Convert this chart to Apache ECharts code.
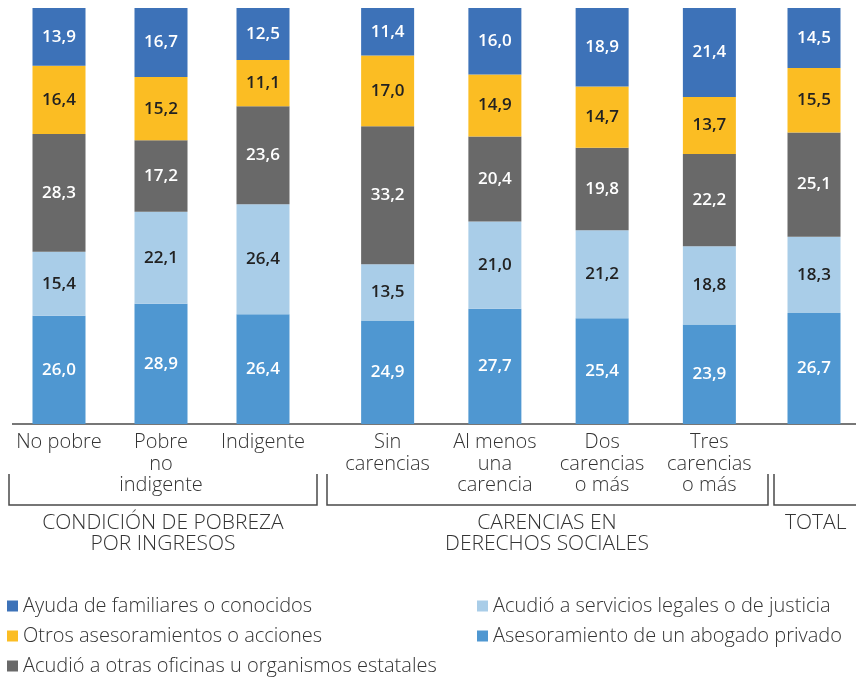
<!DOCTYPE html>
<html>
<head>
<meta charset="utf-8">
<script src="https://cdn.jsdelivr.net/npm/echarts@6/dist/echarts.min.js"></script>
<style>
  html, body { margin: 0; padding: 0; background: #fff; }
  #chart { width: 856px; height: 678px; }
</style>
</head>
<body>
<div id="chart"></div>
<script>
// categorias por grupo
const catPobreza = ['No pobre', 'Pobre\nno\nindigente', 'Indigente']
const catCarencias = ['Sin\ncarencias', 'Al menos\nuna\ncarencia', 'Dos\ncarencias\no más', 'Tres\ncarencias\no más']
const catTotal = ['']

const groupTitles = ['CONDICIÓN DE POBREZA\nPOR INGRESOS', 'CARENCIAS EN\nDERECHOS SOCIALES', 'TOTAL']

// valores (%) en el orden: No pobre, Pobre no ind., Indigente, Sin car., Al menos una, Dos o más, Tres o más, Total
const abogado = [26.0, 28.9, 26.4, 24.9, 27.7, 25.4, 23.9, 26.7]
const serviciosLegales = [15.4, 22.1, 26.4, 13.5, 21.0, 21.2, 18.8, 18.3]
const otrasOficinas = [28.3, 17.2, 23.6, 33.2, 20.4, 19.8, 22.2, 25.1]
const otrosAseso = [16.4, 15.2, 11.1, 17.0, 14.9, 14.7, 13.7, 15.5]
const ayudaFamiliares = [13.9, 16.7, 12.5, 11.4, 16.0, 18.9, 21.4, 14.5]

const seriesDefs = [
  { name: 'Asesoramiento de un abogado privado', data: abogado, color: '#4f97d1', text: '#fff' },
  { name: 'Acudió a servicios legales o de justicia', data: serviciosLegales, color: '#a9cde8', text: '#222' },
  { name: 'Acudió a otras oficinas u organismos estatales', data: otrasOficinas, color: '#696969', text: '#fff' },
  { name: 'Otros asesoramientos o acciones', data: otrosAseso, color: '#fbbd23', text: '#222' },
  { name: 'Ayuda de familiares o conocidos', data: ayudaFamiliares, color: '#3d72b8', text: '#fff' },
]

const FONT = '"Open Sans", Lato, sans-serif'
const groups = [
  { cats: catPobreza, from: 0, grid: { left: 8, width: 306 } },
  { cats: catCarencias, from: 3, grid: { left: 334, width: 429 } },
  { cats: catTotal, from: 7, grid: { left: 772, width: 107 } },
]

const grids = [], xAxes = [], yAxes = [], series = []
groups.forEach((g, gi) => {
  grids.push({ top: 8, bottom: 254, left: g.grid.left, width: g.grid.width })
  xAxes.push({
    type: 'category', gridIndex: gi, data: g.cats,
    axisLine: { show: false }, axisTick: { show: false },
    axisLabel: { interval: 0, margin: 8, color: '#333', fontSize: 20, lineHeight: 21.5, fontFamily: FONT, fontWeight: 300 },
  })
  yAxes.push({ type: 'value', gridIndex: gi, min: 0, max: 100, show: false })
  seriesDefs.forEach((s) => {
    series.push({
      name: s.name, type: 'bar', stack: 'g' + gi, xAxisIndex: gi, yAxisIndex: gi,
      barWidth: 53,
      data: s.data.slice(g.from, g.from + g.cats.length),
      itemStyle: { color: s.color },
      label: {
        show: true, position: 'inside', color: s.text, fontSize: 17, fontWeight: 600, fontFamily: FONT,
        formatter: (p) => p.value.toFixed(1).replace('.', ','),
      },
    })
  })
})

const legendText = { color: '#333', fontSize: 20, fontFamily: FONT, fontWeight: 300, lineHeight: 20 }
const line = '#4a4a4a'
const titleFont = '300 21px ' + FONT

const chart = echarts.init(document.getElementById('chart'))
chart.setOption({
  animation: false,
  grid: grids, xAxis: xAxes, yAxis: yAxes, series: series,
  legend: [
    {
      orient: 'vertical', left: 7, top: 596, padding: 0, itemWidth: 11, itemHeight: 11, itemGap: 10, icon: 'rect',
      data: [seriesDefs[4].name, seriesDefs[3].name, seriesDefs[2].name], textStyle: legendText, selectedMode: false,
    },
    {
      orient: 'vertical', left: 477, top: 596, padding: 0, itemWidth: 11, itemHeight: 11, itemGap: 10, icon: 'rect',
      data: [seriesDefs[1].name, seriesDefs[0].name], textStyle: legendText, selectedMode: false,
    },
  ],
  graphic: [
    { type: 'line', shape: { x1: 12, y1: 424, x2: 856, y2: 424 }, style: { stroke: line, lineWidth: 1.5 } },
    { type: 'polyline', shape: { points: [[9, 474], [9, 505], [317, 505], [317, 474]] }, style: { stroke: line, lineWidth: 1.5, fill: null } },
    { type: 'polyline', shape: { points: [[327, 474], [327, 505], [768, 505], [768, 474]] }, style: { stroke: line, lineWidth: 1.5, fill: null } },
    { type: 'polyline', shape: { points: [[774, 474], [774, 505], [860, 505]] }, style: { stroke: line, lineWidth: 1.5, fill: null } },
    { type: 'text', x: 163, y: 513, style: { text: groupTitles[0], fill: '#333', font: titleFont, align: 'center', lineHeight: 21 } },
    { type: 'text', x: 547, y: 513, style: { text: groupTitles[1], fill: '#333', font: titleFont, align: 'center', lineHeight: 21 } },
    { type: 'text', x: 785, y: 513, style: { text: groupTitles[2], fill: '#333', font: titleFont, lineHeight: 21 } },
  ],
})
</script>
</body>
</html>
